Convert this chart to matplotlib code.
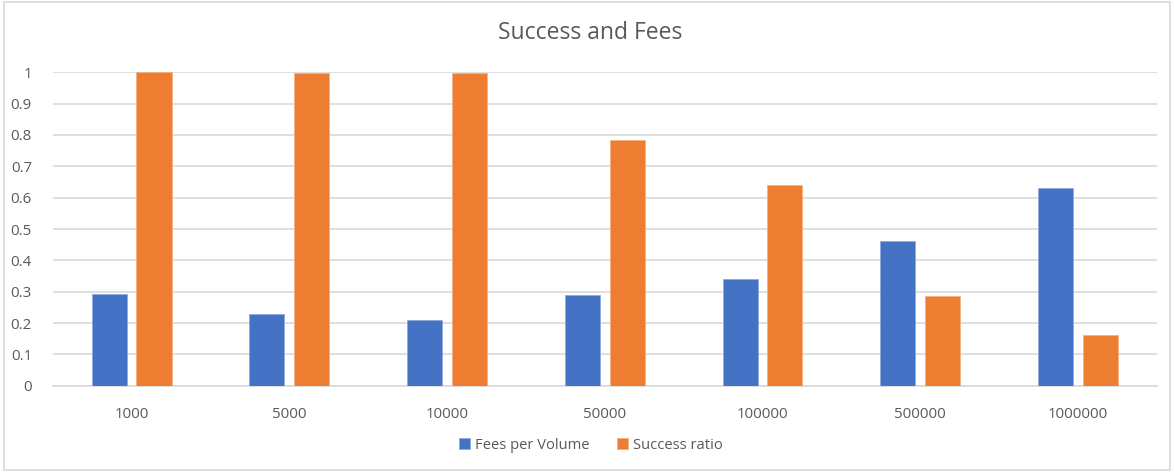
import matplotlib
matplotlib.use("Agg")
import matplotlib.pyplot as plt
import numpy as np
from matplotlib.patches import Rectangle

plt.rcParams["font.family"] = ["Open Sans", "DejaVu Sans"]

# trade volume buckets and measured ratios
volumes = ["1000", "5000", "10000", "50000", "100000", "500000", "1000000"]
fees_per_volume = [0.294, 0.230, 0.211, 0.288, 0.341, 0.463, 0.631]
success_ratio = [1.000, 0.998, 0.997, 0.783, 0.639, 0.285, 0.161]

BLUE = "#4472C4"
ORANGE = "#ED7D31"
GRID = "#D9D9D9"
TEXT = "#595959"

fig = plt.figure(figsize=(11.75, 4.72), dpi=100)
ax = fig.add_axes([0.0449, 0.1828, 0.9395, 0.664])

x = np.arange(len(volumes))
width = 0.222
offset = 0.142
ax.bar(x - offset, fees_per_volume, width, color=BLUE, edgecolor="#8FAADC",
       linewidth=0.6, label="Fees per Volume", zorder=3)
ax.bar(x + offset, success_ratio, width, color=ORANGE, edgecolor="#F4B183",
       linewidth=0.6, label="Success ratio", zorder=3)

ax.set_xlim(-0.5, len(volumes) - 0.5)
ax.set_ylim(0, 1.0)
ax.set_yticks(np.arange(0, 1.01, 0.1))
ax.set_yticklabels(["0"] + [f"{v:.1f}" for v in np.arange(0.1, 0.95, 0.1)] + ["1"])
ax.set_xticks(x)
ax.set_xticklabels(volumes)
ax.tick_params(axis="both", length=0, labelsize=10.8, colors=TEXT)
ax.tick_params(axis="x", pad=15)
ax.tick_params(axis="y", pad=15)

ax.grid(axis="y", color=GRID, linewidth=1.2, zorder=0)
for side in ("top", "right", "left"):
    ax.spines[side].set_visible(False)
ax.spines["bottom"].set_color(GRID)
ax.spines["bottom"].set_linewidth(1.2)

fig.text(0.502, 0.930, "Success and Fees", ha="center", va="center",
         fontsize=16.5, color=TEXT)

fig.legend(loc="center", bbox_to_anchor=(0.503, 0.057), ncol=2, frameon=False,
           fontsize=10.6, labelcolor=TEXT, handlelength=0.75, handleheight=0.75,
           handletextpad=0.3, columnspacing=1.9)

# light chart-area border
fig.patches.append(Rectangle((0.003, 0.004), 0.993, 0.992, transform=fig.transFigure,
                             fill=False, edgecolor=GRID, linewidth=1.2))

fig.savefig("out.png", dpi=100)
